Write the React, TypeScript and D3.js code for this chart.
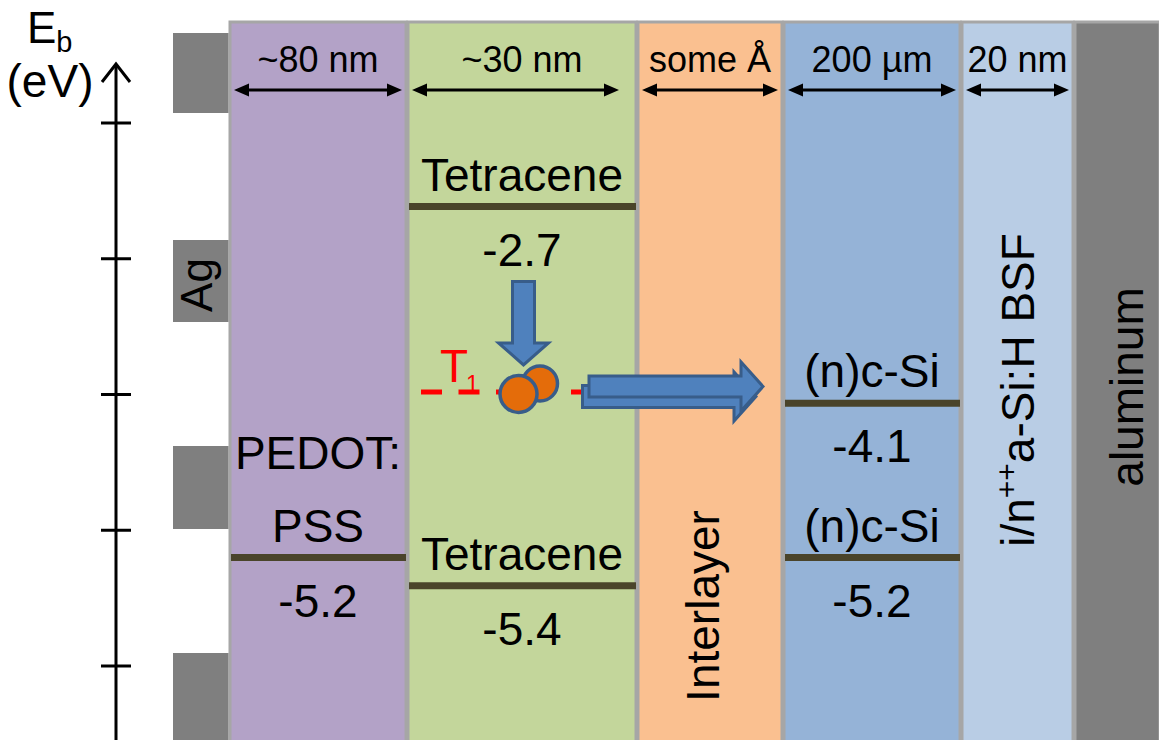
import React from "react";
import * as d3 from "d3";

// ---- Data ----
const layerNames = ["PEDOT:PSS", "Tetracene", "Interlayer", "(n)c-Si", "i/n++a-Si:H BSF", "aluminum"];
const layerThickness = ["~80 nm", "~30 nm", "some Å", "200 µm", "20 nm", ""];
const layerColors = ["#b3a2c7", "#c3d69b", "#fac090", "#95b3d7", "#b9cde5", "#7f7f7f"];

// Energy levels (eV) and the layer each one sits in
const levelLayer = [0, 1, 1, 3, 3];
const levelName = ["PEDOT:|PSS", "Tetracene", "Tetracene", "(n)c-Si", "(n)c-Si"];
const levelEnergy = [-5.2, -2.7, -5.4, -4.1, -5.2];

// Unlabelled energy ticks on the axis (eV)
const axisTicks = [-2, -3, -4, -5, -6];

// ---- Layout ----
const W = 1159;
const H = 740;
const layerEdges = [229, 407, 637, 783, 961, 1074, 1159];
const layerTop = 22;
const agFingers: [number, number][] = [
  [33, 113],
  [240, 322],
  [446, 529],
  [653, 745],
];
const FONT = "'Liberation Sans', Arial, Helvetica, sans-serif";

const energyY = d3.scaleLinear().domain([-2, -6]).range([108.3, 669.9]);
const tickY = d3.scaleLinear().domain([-2, -6]).range([123, 666]);

const ARROW_FILL = "#4f81bd";
const ARROW_STROKE = "#385d8a";
const LEVEL_COLOR = "#4a442a";

// block arrow pointing right, shaft from x0 to head base xb, tip at xt
function rightArrow(x0: number, xb: number, xt: number, cy: number, sh: number, hh: number) {
  const p = d3.path();
  p.moveTo(x0, cy - sh);
  p.lineTo(xb, cy - sh);
  p.lineTo(xb, cy - hh);
  p.lineTo(xt, cy);
  p.lineTo(xb, cy + hh);
  p.lineTo(xb, cy + sh);
  p.lineTo(x0, cy + sh);
  p.closePath();
  return p.toString();
}

function downArrow(cx: number, y0: number, yb: number, yt: number, sw: number, hw: number) {
  const p = d3.path();
  p.moveTo(cx - sw, y0);
  p.lineTo(cx + sw, y0);
  p.lineTo(cx + sw, yb);
  p.lineTo(cx + hw, yb);
  p.lineTo(cx, yt);
  p.lineTo(cx - hw, yb);
  p.lineTo(cx - sw, yb);
  p.closePath();
  return p.toString();
}

function DoubleArrow({ x1, x2, y }: { x1: number; x2: number; y: number }) {
  const hl = 15;
  const hw = 6.5;
  return (
    <g>
      <line x1={x1 + hl - 2} x2={x2 - hl + 2} y1={y} y2={y} stroke="#000" strokeWidth={3} />
      <path d={`M${x1},${y} L${x1 + hl},${y - hw} L${x1 + hl},${y + hw} Z`} fill="#000" />
      <path d={`M${x2},${y} L${x2 - hl},${y - hw} L${x2 - hl},${y + hw} Z`} fill="#000" />
    </g>
  );
}

export default function App() {
  const layers = layerNames.map((name, i) => ({
    name,
    x0: layerEdges[i],
    x1: layerEdges[i + 1],
    color: layerColors[i],
    thickness: layerThickness[i],
  }));

  const levels = levelEnergy.map((e, i) => {
    const L = layers[levelLayer[i]];
    return { e, name: levelName[i], x0: L.x0, x1: L.x1, cx: (L.x0 + L.x1) / 2, y: energyY(e) };
  });

  const t1Y = 392;

  return (
    <svg
      width={W}
      height={H}
      viewBox={`0 0 ${W} ${H}`}
      style={{ position: "absolute", left: 0, top: 0, background: "#fff" }}
      fontFamily={FONT}
    >
      {/* layer stack */}
      {layers.map((l, i) => (
        <rect
          key={l.name}
          x={l.x0 + 1}
          y={layerTop}
          width={l.x1 - l.x0 - (i === layers.length - 1 ? 0 : 2)}
          height={H - layerTop + 10}
          fill={l.color}
          stroke="#a6a6a6"
          strokeWidth={3}
        />
      ))}

      {/* Ag front contact fingers */}
      {agFingers.map(([a, b], i) => (
        <rect key={i} x={173} y={a} width={layerEdges[0] - 173 - 0.5} height={b - a} fill="#7f7f7f" />
      ))}
      <text
        transform="translate(212,285) rotate(-90)"
        textAnchor="middle"
        fontSize={44}
        fill="#000"
      >
        Ag
      </text>

      {/* layer thickness markers */}
      {layers
        .filter((l) => l.thickness)
        .map((l) => (
          <g key={l.name + "-t"}>
            <text x={(l.x0 + l.x1) / 2} y={72} textAnchor="middle" fontSize={36} fill="#000">
              {l.thickness}
            </text>
            <DoubleArrow x1={l.x0 + 5} x2={l.x1 - (l.name === "Tetracene" ? 18 : 5)} y={90} />
          </g>
        ))}

      {/* energy levels */}
      {levels.map((lv, i) => {
        const parts = lv.name.split("|");
        return (
          <g key={i}>
            <line x1={lv.x0 + 2} x2={lv.x1 - 1} y1={lv.y} y2={lv.y} stroke={LEVEL_COLOR} strokeWidth={7} />
            {parts.map((p, j) => (
              <text
                key={j}
                x={lv.cx}
                y={lv.y - 16 - (parts.length - 1 - j) * 73}
                textAnchor="middle"
                fontSize={46}
                fill="#000"
              >
                {p}
              </text>
            ))}
            <text x={lv.cx} y={lv.y + 59} textAnchor="middle" fontSize={46} fill="#000">
              {d3.format(".1f")(lv.e).replace("−", "-")}
            </text>
          </g>
        );
      })}

      {/* vertical layer names */}
      <text transform="translate(719,606) rotate(-90)" textAnchor="middle" fontSize={46} fill="#000">
        Interlayer
      </text>
      <text transform="translate(1034,390) rotate(-90)" textAnchor="middle" fontSize={46} fill="#000">
        i/n
        <tspan dy={-17} fontSize={30}>
          ++
        </tspan>
        <tspan dy={17}>a-Si:H BSF</tspan>
      </text>
      <text transform="translate(1143,387) rotate(-90)" textAnchor="middle" fontSize={46} fill="#000">
        aluminum
      </text>

      {/* triplet level T1 */}
      <line
        x1={421}
        x2={640}
        y1={t1Y}
        y2={t1Y}
        stroke="#ff0000"
        strokeWidth={5}
        strokeDasharray="21 16.5"
      />
      <text x={440} y={382} fontSize={46} fill="#ff0000">
        T
      </text>
      <text x={466} y={t1Y} fontSize={23} fill="#ff0000">
        1
      </text>

      {/* triplet exciton pair */}
      <circle cx={540} cy={383.5} r={17.5} fill="#e46c0a" stroke={ARROW_STROKE} strokeWidth={3.5} />
      <circle cx={518.5} cy={394} r={18.5} fill="#e46c0a" stroke={ARROW_STROKE} strokeWidth={3.5} />

      {/* singlet fission arrow */}
      <path d={downArrow(523.5, 281.5, 343, 365, 11, 25)} fill={ARROW_FILL} stroke={ARROW_STROKE} strokeWidth={3} strokeLinejoin="miter" />

      {/* transfer into silicon */}
      <path d={rightArrow(582.5, 734, 756, 396.5, 11, 24.5)} fill={ARROW_FILL} stroke={ARROW_STROKE} strokeWidth={3} />
      <path d={rightArrow(589, 741, 763, 386.5, 10.5, 24.5)} fill={ARROW_FILL} stroke={ARROW_STROKE} strokeWidth={3} />

      {/* energy axis */}
      <line x1={116} x2={116} y1={64} y2={H + 5} stroke="#000" strokeWidth={3} />
      <path d="M102,82 L116,64 L130,82" fill="none" stroke="#000" strokeWidth={3} />
      {axisTicks.map((t) => (
        <line key={t} x1={101} x2={131} y1={tickY(t)} y2={tickY(t)} stroke="#000" strokeWidth={3} />
      ))}
      <text x={27} y={43} fontSize={44} fill="#000">
        E
        <tspan dy={9} fontSize={29}>
          b
        </tspan>
      </text>
      <text x={50} y={97} textAnchor="middle" fontSize={46} fill="#000">
        (eV)
      </text>
    </svg>
  );
}
